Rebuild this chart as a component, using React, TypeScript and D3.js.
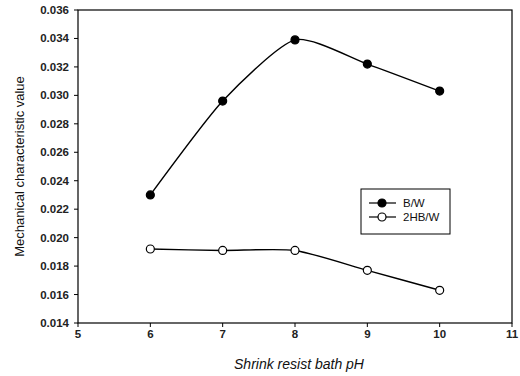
import React from "react";
import * as d3 from "d3";

const phValues = [6, 7, 8, 9, 10];
const bwValues = [0.0230, 0.0296, 0.0339, 0.0322, 0.0303];
const hbwValues = [0.0192, 0.0191, 0.0191, 0.0177, 0.0163];
const xTicks = [5, 6, 7, 8, 9, 10, 11];
const yTicks = [0.014, 0.016, 0.018, 0.020, 0.022, 0.024, 0.026, 0.028, 0.030, 0.032, 0.034, 0.036];
const seriesNames = ["B/W", "2HB/W"];

export default function App() {
  const W = 520, H = 376;
  const left = 78, right = 512, top = 10, bottom = 323;
  const x = d3.scaleLinear().domain([5, 11]).range([left, right]);
  const y = d3.scaleLinear().domain([0.014, 0.036]).range([bottom, top]);
  const line = d3.line<number>()
    .x((_, i) => x(phValues[i]))
    .y((d) => y(d))
    .curve(d3.curveCardinal.tension(0.35));
  const font = "'Liberation Sans', Arial, sans-serif";
  const series = [
    { name: seriesNames[0], values: bwValues, fill: "#000" },
    { name: seriesNames[1], values: hbwValues, fill: "#fff" },
  ];
  const legX = 361, legY = 189, legW = 89, legH = 45;
  return (
    <svg width={W} height={H} style={{ position: "absolute", left: 0, top: 0 }} fontFamily={font}>
      <rect x={0} y={0} width={W} height={H} fill="#fff" />
      <rect x={left} y={top} width={right - left} height={bottom - top} fill="none" stroke="#000" strokeWidth={1.2} />
      {yTicks.map((t) => (
        <g key={"y" + t}>
          <line x1={left - 4} x2={left} y1={y(t)} y2={y(t)} stroke="#000" strokeWidth={1} />
          <text x={left - 9} y={y(t) + 4} textAnchor="end" fontSize={11.5} fontWeight="bold" fill="#222">
            {t.toFixed(3)}
          </text>
        </g>
      ))}
      {xTicks.map((t) => (
        <g key={"x" + t}>
          <line x1={x(t)} x2={x(t)} y1={bottom} y2={bottom + 4} stroke="#000" strokeWidth={1} />
          <text x={x(t)} y={bottom + 15} textAnchor="middle" fontSize={11.5} fontWeight="bold" fill="#222">
            {t}
          </text>
        </g>
      ))}
      <text
        transform={`translate(24,${(top + bottom) / 2}) rotate(-90)`}
        textAnchor="middle"
        fontSize={13}
        fill="#111"
      >
        Mechanical characteristic value
      </text>
      <text x={299} y={369} textAnchor="middle" fontSize={14} fontStyle="italic" fill="#111">
        Shrink resist bath pH
      </text>
      {series.map((s) => (
        <g key={s.name}>
          <path d={line(s.values) || ""} fill="none" stroke="#000" strokeWidth={1.4} />
          {s.values.map((v, i) => (
            <circle key={i} cx={x(phValues[i])} cy={y(v)} r={4} fill={s.fill} stroke="#000" strokeWidth={1.2} />
          ))}
        </g>
      ))}
      <rect x={legX} y={legY} width={legW} height={legH} fill="#fff" stroke="#000" strokeWidth={1} />
      {series.map((s, i) => {
        const ly = legY + 14 + i * 14;
        return (
          <g key={"leg" + s.name}>
            <line x1={369} x2={396} y1={ly} y2={ly} stroke="#000" strokeWidth={1.2} />
            <circle cx={382} cy={ly} r={4} fill={s.fill} stroke="#000" strokeWidth={1.2} />
            <text x={403} y={ly + 4} fontSize={11.5} fill="#111">{s.name}</text>
          </g>
        );
      })}
    </svg>
  );
}
